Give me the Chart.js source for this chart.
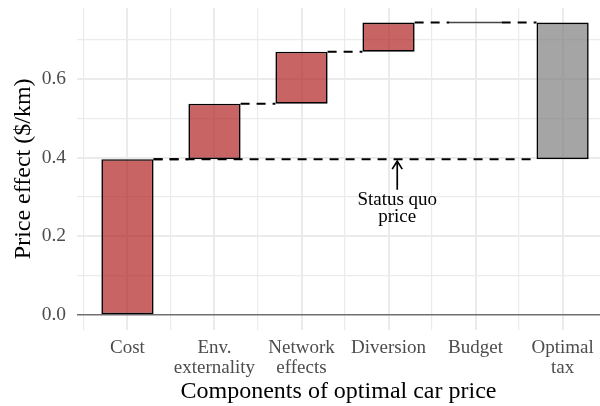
<!DOCTYPE html>
<html>
<head>
<meta charset="utf-8">
<script src="https://cdn.jsdelivr.net/npm/chart.js@4"></script>
<style>
  html, body { margin: 0; padding: 0; background: #fff; }
  #wrap { width: 600px; height: 406px; }
</style>
</head>
<body>
<div id="wrap"><canvas id="chart"></canvas></div>
<script>
// Data
const categories = ['Cost', ['Env.', 'externality'], ['Network', 'effects'], 'Diversion', 'Budget', ['Optimal', 'tax']];
const positions = [1, 2, 3, 4, 5, 6];
const barLow = [0, 0.396, 0.537, 0.669, 0.743, 0.396];
const barHigh = [0.396, 0.537, 0.669, 0.743, 0.743, 0.743];
const statusQuo = 0.396;
const yTicks = [0, 0.1, 0.2, 0.3, 0.4, 0.5, 0.6, 0.7];
const xTicks = [0.5, 1, 1.5, 2, 2.5, 3, 3.5, 4, 4.5, 5, 5.5, 6];

const HALF = 0.3;           // half bar width, in x units
const RED = 'rgba(178,34,34,0.7)';
const GREY = 'rgba(127,127,127,0.7)';
const FONT = "'Liberation Serif', 'DejaVu Serif', serif";

// Annotation position
const note = { x: 4.1, tip: 0.391, tail: 0.318, lines: ['Status quo', 'price'], textY: 0.293 };

// dashed connectors between bars
const connectors = [];
for (let i = 0; i < positions.length - 1; i++) {
  if (barHigh[i] === barLow[i + 1] || barHigh[i] === barHigh[i + 1]) {
    connectors.push([positions[i] + HALF, positions[i + 1] - HALF, barHigh[i]]);
  }
}
connectors.push([positions[0] + HALF, positions[5] - HALF, statusQuo]);

const lineSets = connectors.map(([x0, x1, y]) => ({
  type: 'line',
  data: [{ x: x0, y: y }, { x: x1, y: y }],
  borderColor: '#000',
  borderWidth: 2,
  borderDash: [9, 7],
  pointRadius: 0,
  order: 0
}));

// Budget has zero height: draw its outline as a flat line
lineSets.push({
  type: 'line',
  data: [{ x: positions[4] - HALF, y: barHigh[4] }, { x: positions[4] + HALF, y: barHigh[4] }],
  borderColor: '#444',
  borderWidth: 1.4,
  pointRadius: 0,
  order: 0
});

const arrowPlugin = {
  id: 'arrow',
  afterDatasetsDraw(chart) {
    const { ctx, scales: { x, y } } = chart;
    const px = x.getPixelForValue(note.x);
    const top = y.getPixelForValue(note.tip);
    const bot = y.getPixelForValue(note.tail);
    ctx.save();
    ctx.strokeStyle = '#000';
    ctx.lineWidth = 1.7;
    ctx.beginPath();
    ctx.moveTo(px, bot);
    ctx.lineTo(px, top);
    ctx.moveTo(px - 5, top + 8);
    ctx.lineTo(px, top);
    ctx.lineTo(px + 5, top + 8);
    ctx.stroke();
    ctx.fillStyle = '#000';
    ctx.font = '19px ' + FONT;
    ctx.textAlign = 'center';
    ctx.textBaseline = 'middle';
    const ty = y.getPixelForValue(note.textY);
    note.lines.forEach((t, i) => ctx.fillText(t, px, ty + i * 17.5));
    ctx.restore();
  }
};

const isMajorY = v => Math.round(v * 10) % 2 === 0;
const isMajorX = v => Number.isInteger(v);

new Chart(document.getElementById('chart'), {
  type: 'bar',
  data: {
    datasets: [{
      type: 'bar',
      data: positions.map((p, i) => ({ x: p, y: [barLow[i], barHigh[i]] })),
      backgroundColor: positions.map((p, i) => i === 5 ? GREY : RED),
      borderColor: '#000',
      borderWidth: 1.6,
      borderSkipped: false,
      categoryPercentage: 1,
      barPercentage: 1.2,
      order: 1
    }, ...lineSets]
  },
  options: {
    responsive: true,
    maintainAspectRatio: false,
    animation: false,
    layout: { padding: { top: 8, left: 0, right: 0, bottom: 0 } },
    plugins: { legend: { display: false }, tooltip: { enabled: false } },
    scales: {
      x: {
        type: 'linear',
        min: 0.42,
        max: 6.43,
        offset: false,
        afterBuildTicks: axis => { axis.ticks = xTicks.map(v => ({ value: v })); },
        afterFit: axis => { axis.height = 76.4; axis.paddingLeft = 0; axis.paddingRight = 0; },
        border: { display: false },
        grid: {
          offset: false,
          drawTicks: false,
          color: '#EBEBEB',
          lineWidth: c => isMajorX(c.tick.value) ? 2 : 1.2
        },
        ticks: {
          autoSkip: false,
          maxRotation: 0,
          padding: 8,
          color: '#4D4D4D',
          font: { family: FONT, size: 19, lineHeight: 1.05 },
          callback: v => isMajorX(v) ? categories[positions.indexOf(v)] : ''
        },
        title: {
          display: true,
          text: 'Components of optimal car price',
          color: '#000',
          font: { family: FONT, size: 24 },
          padding: { top: 0, bottom: 0 }
        }
      },
      y: {
        min: -0.037,
        max: 0.78,
        afterBuildTicks: axis => { axis.ticks = yTicks.map(v => ({ value: v })); },
        afterFit: axis => { axis.width = 77; axis.paddingTop = 0; axis.paddingBottom = 0; },
        border: { display: false },
        grid: {
          drawTicks: false,
          color: c => c.tick.value === 0 ? '#707070' : '#EBEBEB',
          lineWidth: c => c.tick.value === 0 ? 1.6 : (isMajorY(c.tick.value) ? 2 : 1.2)
        },
        ticks: {
          padding: 11,
          color: '#4D4D4D',
          font: { family: FONT, size: 19.5 },
          callback: v => isMajorY(v) ? v.toFixed(1) : ''
        },
        title: {
          display: true,
          text: 'Price effect ($/km)',
          color: '#000',
          font: { family: FONT, size: 24 },
          padding: { top: 9, bottom: 0 }
        }
      }
    }
  },
  plugins: [arrowPlugin]
});
</script>
</body>
</html>
